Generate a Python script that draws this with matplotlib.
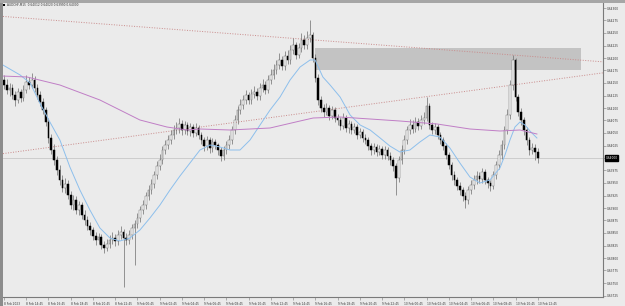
import matplotlib
matplotlib.use('Agg')
import matplotlib.pyplot as plt
import matplotlib.ticker as mticker
from matplotlib.patches import Rectangle
import numpy as np
import pandas as pd

# ---- data (prices in points, 1 point = 0.00001) ----
symbol = 'AUDCHF,M15'
start_time = '2023-02-08 12:45'
point = 0.00001

first_open = 64156
close_pts = [
    64146, 64136, 64140, 64126, 64116, 64132, 64120, 64136, 64152, 64146,
    64156, 64140, 64126, 64112, 64096, 64072, 64040, 64016, 63996, 63976,
    63956, 63940, 63948, 63926, 63906, 63916, 63896, 63906, 63886, 63876,
    63864, 63856, 63844, 63836, 63842, 63826, 63820, 63828, 63836, 63840,
    63834, 63846, 63852, 63840, 63836, 63846, 63860, 63868, 63880, 63896,
    63906, 63924, 63936, 63948, 63966, 63984, 63996, 64016, 64026, 64036,
    64046, 64056, 64060, 64068, 64056, 64066, 64054, 64062, 64050, 64060,
    64046, 64036, 64024, 64036, 64020, 64032, 64026, 64016, 64004, 64016,
    64026, 64036, 64056, 64076, 64096, 64106, 64116, 64126, 64116, 64128,
    64132, 64124, 64140, 64146, 64136, 64156, 64166, 64176, 64186, 64196,
    64184, 64204, 64196, 64216, 64226, 64206, 64220, 64236, 64226, 64240,
    64246, 64200, 64160, 64116, 64100, 64092, 64100, 64084, 64096, 64080,
    64076, 64064, 64080, 64060, 64068, 64056, 64062, 64046, 64052, 64040,
    64036, 64024, 64016, 64022, 64012, 64018, 64006, 64016, 64004, 63996,
    63984, 63960, 63996, 64016, 64036, 64056, 64066, 64058, 64072, 64064,
    64076, 64080, 64104, 64066, 64056, 64062, 64046, 64036, 64024, 64006,
    63986, 63966, 63956, 63944, 63936, 63924, 63916, 63936, 63946, 63956,
    63964, 63958, 63972, 63956, 63950, 63944, 63966, 63986, 64006, 64026,
    64056, 64086, 64146, 64196, 64122, 64092, 64076, 64056, 64036, 64016,
    64020, 64012, 64000]
high_pts = [
    64166, 64158, 64150, 64148, 64134, 64140, 64138, 64146, 64166, 64162,
    64170, 64164, 64148, 64134, 64120, 64102, 64080, 64048, 64028, 64004,
    63986, 63966, 63960, 63956, 63934, 63926, 63924, 63914, 63912, 63896,
    63884, 63872, 63862, 63852, 63850, 63848, 63834, 63838, 63846, 63852,
    63848, 63856, 63864, 63858, 63850, 63856, 63868, 63876, 63890, 63904,
    63916, 63932, 63946, 63958, 63974, 63994, 64008, 64024, 64036, 64046,
    64056, 64066, 64072, 64080, 64076, 64074, 64072, 64070, 64068, 64070,
    64066, 64052, 64042, 64044, 64042, 64040, 64038, 64030, 64022, 64024,
    64034, 64046, 64064, 64086, 64104, 64118, 64126, 64136, 64132, 64138,
    64144, 64140, 64150, 64158, 64154, 64166, 64178, 64188, 64196, 64210,
    64204, 64214, 64216, 64226, 64240, 64232, 64230, 64250, 64246, 64254,
    64276, 64252, 64208, 64168, 64124, 64108, 64110, 64106, 64104, 64102,
    64088, 64082, 64090, 64086, 64076, 64074, 64070, 64068, 64060, 64058,
    64048, 64042, 64030, 64030, 64028, 64026, 64024, 64024, 64022, 64012,
    64002, 63990, 64004, 64026, 64046, 64064, 64078, 64076, 64082, 64080,
    64086, 64092, 64122, 64110, 64072, 64070, 64068, 64052, 64042, 64030,
    64012, 63992, 63974, 63962, 63952, 63942, 63932, 63944, 63956, 63966,
    63974, 63972, 63980, 63978, 63962, 63956, 63974, 63994, 64016, 64036,
    64064, 64098, 64156, 64206, 64200, 64128, 64100, 64082, 64062, 64042,
    64030, 64028, 64020]
low_pts = [
    64138, 64128, 64124, 64118, 64104, 64110, 64112, 64114, 64130, 64138,
    64140, 64132, 64118, 64104, 64088, 64064, 64030, 64008, 63986, 63966,
    63946, 63932, 63930, 63918, 63898, 63896, 63888, 63886, 63878, 63866,
    63856, 63846, 63836, 63826, 63828, 63818, 63810, 63814, 63820, 63828,
    63824, 63826, 63838, 63742, 63826, 63828, 63838, 63786, 63860, 63872,
    63888, 63898, 63916, 63928, 63940, 63958, 63976, 63988, 64008, 64018,
    64028, 64038, 64048, 64050, 64046, 64048, 64046, 64044, 64042, 64044,
    64038, 64028, 64014, 64016, 64010, 64012, 64018, 64006, 63994, 63996,
    64008, 64018, 64028, 64048, 64068, 64088, 64098, 64108, 64108, 64108,
    64120, 64116, 64116, 64132, 64128, 64130, 64148, 64158, 64168, 64178,
    64176, 64176, 64188, 64188, 64208, 64198, 64200, 64212, 64218, 64218,
    64232, 64192, 64152, 64106, 64092, 64082, 64086, 64076, 64078, 64072,
    64066, 64056, 64058, 64052, 64050, 64048, 64050, 64038, 64040, 64032,
    64028, 64016, 64006, 64008, 64004, 64006, 63998, 63998, 63996, 63986,
    63974, 63926, 63952, 63988, 64008, 64028, 64048, 64050, 64052, 64056,
    64058, 64068, 64074, 64058, 64048, 64048, 64038, 64028, 64016, 63998,
    63978, 63956, 63946, 63936, 63926, 63914, 63900, 63908, 63928, 63938,
    63948, 63950, 63950, 63948, 63940, 63934, 63938, 63958, 63978, 63998,
    64018, 64048, 64078, 64136, 64114, 64084, 64066, 64046, 64026, 64006,
    64008, 63996, 63990]

# moving averages: (bar, points)
fast_ma = [(-0.4, 64186), (5.8, 64166), (9.4, 64150), (12.9, 64110), (16.5, 64072),
           (20.1, 64036), (23.7, 63982), (27.3, 63936), (30.9, 63896), (34.5, 63860),
           (38.1, 63840), (41.7, 63834), (45.3, 63840), (48.9, 63856), (52.5, 63880),
           (56.1, 63906), (59.7, 63936), (63.3, 63964), (66.9, 63990), (70.5, 64016),
           (74.1, 64026), (77.7, 64022), (81.3, 64016), (84.9, 64016), (88.5, 64036),
           (92.1, 64066), (95.7, 64096), (99.3, 64122), (102.9, 64156), (106.5, 64182),
           (110.1, 64196), (111.9, 64196), (114.7, 64162), (117.3, 64146), (120.9, 64122),
           (124.5, 64086), (128.1, 64066), (131.7, 64056), (135.3, 64040), (138.8, 64024),
           (142.4, 64012), (146.0, 64016), (149.6, 64032), (153.2, 64046), (156.8, 64042),
           (160.4, 64020), (164.0, 63990), (167.6, 63962), (171.2, 63950), (174.8, 63956),
           (178.4, 63980), (180.2, 64006), (182.0, 64036), (183.8, 64062), (185.6, 64072),
           (187.4, 64066), (189.2, 64054), (191.7, 64040)]
slow_ma = [(-0.7, 64164), (8.3, 64162), (20.1, 64146), (34.5, 64116), (48.9, 64076),
           (58.6, 64062), (65.8, 64056), (70.5, 64058), (81.3, 64056), (95.7, 64060),
           (106.5, 64074), (111.2, 64080), (120.9, 64082), (131.7, 64078), (142.4, 64074),
           (155.8, 64068), (167.6, 64058), (178.4, 64054), (185.6, 64056), (191.7, 64048)]

# chart objects: trend lines (two anchors each) and the supply zone
trend_upper = [(0, 64283), (183, 64206)]
trend_lower = [(12, 64018), (183, 64146)]
zone_bars = (112, 207.6)
zone_pts = (64176, 64220)

# ---- derived ----
n = len(close_pts)
idx = np.arange(n)
closes = np.array(close_pts) * point
opens = np.array([first_open] + close_pts[:-1]) * point
highs = np.array(high_pts) * point
lows = np.array(low_pts) * point
times = pd.date_range(start_time, periods=n, freq='15min')

bg = '#ebebeb'
fig = plt.figure(figsize=(6.25, 3.06), dpi=100, facecolor=bg)
ax = fig.add_axes([3 / 625, 9 / 306, 600 / 625, 294 / 306], facecolor=bg)

# zone
ax.add_patch(Rectangle((zone_bars[0], zone_pts[0] * point), zone_bars[1] - zone_bars[0],
                       (zone_pts[1] - zone_pts[0]) * point, facecolor='#c3c3c3',
                       edgecolor='none', zorder=1))

# current price line
ax.axhline(closes[-1], color='#c8c8c8', lw=0.6, zorder=1)

# trend lines
for tl in (trend_upper, trend_lower):
    ax.axline((tl[0][0], tl[0][1] * point), (tl[1][0], tl[1][1] * point),
              color='#c98a8a', lw=0.7, ls=(0, (1, 1.6)), zorder=2)

# candles
ax.vlines(idx, lows, highs, color='#6e6e6e', lw=0.5, zorder=3)
up = closes >= opens
body_lo = np.minimum(opens, closes)
body_h = np.maximum(np.abs(closes - opens), 1.5 * point)
ax.bar(idx[up], body_h[up], bottom=body_lo[up], width=0.6, facecolor='white',
       edgecolor='#6e6e6e', lw=0.35, zorder=4)
ax.bar(idx[~up], body_h[~up], bottom=body_lo[~up], width=0.6, facecolor='black',
       edgecolor='black', lw=0.35, zorder=4)

# moving averages
fx, fy = zip(*fast_ma)
ax.plot(fx, np.array(fy) * point, color='#8dbfec', lw=0.7, zorder=5)
sx, sy = zip(*slow_ma)
ax.plot(sx, np.array(sy) * point, color='#c07ec6', lw=0.7, zorder=5)

# axes limits and ticks
ax.set_xlim(-0.36, 215.47)
ax.set_ylim(0.63722, 0.64310)
for s in ('left', 'top'):
    ax.spines[s].set_visible(False)
for s in ('right', 'bottom'):
    ax.spines[s].set_color('#7a7a7a')
    ax.spines[s].set_linewidth(0.8)

last_close = closes[-1]


def price_fmt(v, pos):
    # the current price label takes the place of the tick label under it
    if abs(v - last_close) < 0.00012:
        return ''
    return f'{v:.5f}'


ax.yaxis.tick_right()
ax.yaxis.set_major_locator(mticker.MultipleLocator(0.00025))
ax.yaxis.set_major_formatter(mticker.FuncFormatter(price_fmt))
ax.tick_params(axis='y', labelsize=2.1, length=2, width=0.4, pad=1,
               colors='#7a7a7a', labelcolor='#333333')

tick_bars = idx[::8]
tick_labels = []
for b in tick_bars:
    t = times[b]
    if b == 0:
        tick_labels.append(f'{t.day} {t:%b} {t.year}')
    else:
        tick_labels.append(f'{t.day} {t:%b} {t:%H:%M}')
ax.set_xticks(tick_bars)
ax.set_xticklabels(tick_labels, ha='left')
ax.tick_params(axis='x', labelsize=2.1, length=2, width=0.4, pad=1.5,
               colors='#7a7a7a', labelcolor='#333333')

# current price label
ax.text(1.004, last_close, f'{last_close:.5f}', transform=ax.get_yaxis_transform(),
        fontsize=2.1, color='white', va='center', ha='left', clip_on=False, zorder=10,
        bbox=dict(facecolor='black', edgecolor='black', pad=0.6))

# header
o, h, l, c = opens[-1], highs[-1], lows[-1], closes[-1]
fig.text(7 / 625, 1 - 5 / 306, f'{symbol}  {o:.5f} {h:.5f} {l:.5f} {c:.5f}',
         fontsize=2.1, color='#333333', va='center', ha='left')
fig.patches.append(Rectangle((3 / 625, 1 - 6 / 306), 2.5 / 625, 2.5 / 306,
                             transform=fig.transFigure, facecolor='black',
                             edgecolor='none'))

# window frame
fig.patches.append(Rectangle((0, 0), 2.5 / 625, 1, transform=fig.transFigure,
                             facecolor='#8c8c8c', edgecolor='none'))
fig.patches.append(Rectangle((0, 1 - 2.5 / 306), 1, 2.5 / 306, transform=fig.transFigure,
                             facecolor='#a6a6a6', edgecolor='none'))

fig.savefig('out.png', dpi=100, facecolor=bg)
